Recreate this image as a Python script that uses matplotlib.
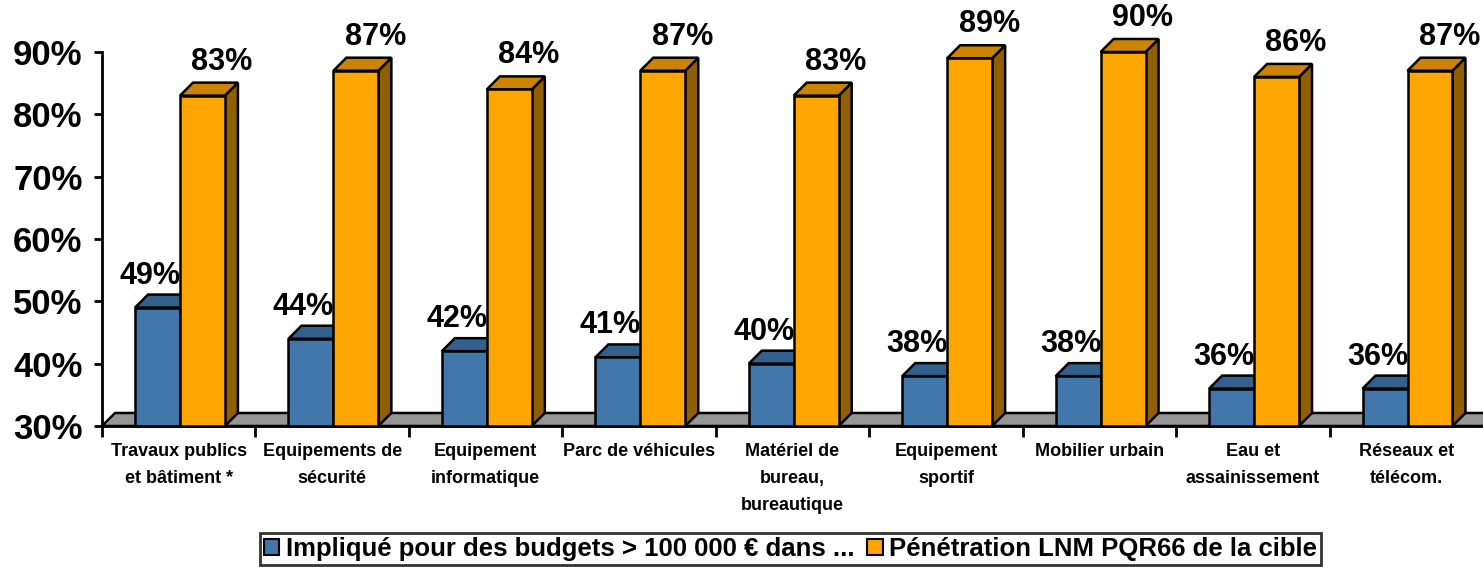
import matplotlib.pyplot as plt
from matplotlib.patches import Polygon, Patch

# -----------------------------------------------------------
# Data
# -----------------------------------------------------------

categories = [
    "Travaux publics\net bâtiment *",
    "Equipements de\nsécurité",
    "Equipement\ninformatique",
    "Parc de véhicules",
    "Matériel de\nbureau,\nbureautique",
    "Equipement\nsportif",
    "Mobilier urbain",
    "Eau et\nassainissement",
    "Réseaux et\ntélécom.",
]

implique = [49, 44, 42, 41, 40, 38, 38, 36, 36]
penetration = [83, 87, 84, 87, 83, 89, 90, 86, 87]

series_names = [
    "Impliqué pour des budgets > 100 000 € dans ...",
    "Pénétration LNM PQR66 de la cible",
]

y_ticks = [30, 40, 50, 60, 70, 80, 90]

# colours: front, top, side
blue = ("#4177aa", "#33618e", "#284d70")
orange = ("#ffa500", "#cc8400", "#8f5f00")
floor_color = "#969696"

plt.rcParams['font.family'] = ['Liberation Sans', 'DejaVu Sans']
plt.rcParams['font.weight'] = 'bold'

# -----------------------------------------------------------
# Figure
# -----------------------------------------------------------

fig = plt.figure(figsize=(14.83, 5.67), dpi=100)
ax = fig.add_axes([0.0688, 0.2487, 0.9312, 0.6596])

n = len(categories)
ymin, ymax = y_ticks[0], y_ticks[-1]
ax.set_xlim(0, n)
ax.set_ylim(ymin, ymax)

# depth of the fake 3D effect, in pixels -> data units
depth_px = 13
ax_w = 14.83 * 100 * 0.9312
ax_h = 5.67 * 100 * 0.6596
dx = depth_px * n / ax_w
dy = depth_px * (ymax - ymin) / ax_h

edge = dict(edgecolor="black", linewidth=1.8, joinstyle="miter")


def add_poly(pts, color, z):
    ax.add_patch(Polygon(pts, closed=True, facecolor=color,
                         clip_on=False, zorder=z, **edge))


# floor
add_poly([(0, ymin), (n, ymin), (n + dx, ymin + dy), (dx, ymin + dy)],
         floor_color, 1)

bar_start = 0.215
bar_w = 0.293


def bar3d(x0, val, cols, z):
    front, top, side = cols
    # side
    add_poly([(x0 + bar_w, ymin), (x0 + bar_w + dx, ymin + dy),
              (x0 + bar_w + dx, val + dy), (x0 + bar_w, val)], side, z)
    # top
    add_poly([(x0, val), (x0 + bar_w, val), (x0 + bar_w + dx, val + dy),
              (x0 + dx, val + dy)], top, z)
    # front
    ax.bar(x0, val - ymin, bottom=ymin, width=bar_w, align="edge",
           color=front, clip_on=False, zorder=z + 0.5, **edge)


for i in range(n):
    xb = i + bar_start
    xo = xb + bar_w
    bar3d(xb, implique[i], blue, 2 + i)
    bar3d(xo, penetration[i], orange, 2.2 + i)

    ax.annotate(f"{implique[i]}%", (i + 0.313, implique[i]),
                xytext=(0, 24), textcoords="offset pixels",
                ha="center", va="baseline", fontsize=22, fontweight="bold")
    ax.annotate(f"{penetration[i]}%", (i + 0.782, penetration[i]),
                xytext=(0, 26), textcoords="offset pixels",
                ha="center", va="baseline", fontsize=22, fontweight="bold")

# -----------------------------------------------------------
# Axes formatting
# -----------------------------------------------------------

ax.spines["top"].set_visible(False)
ax.spines["right"].set_visible(False)
ax.spines["left"].set_linewidth(2)
ax.spines["bottom"].set_linewidth(2)
ax.spines["left"].set_zorder(20)

ax.set_yticks(y_ticks)
ax.set_yticklabels([f"{t}%" for t in y_ticks], fontsize=25, fontweight="bold")
ax.tick_params(axis="y", direction="out", length=6, width=2, pad=8)

ax.set_xticks(range(n))
ax.set_xticklabels([])
ax.set_xticks([i + 0.5 for i in range(n)], minor=True)
ax.set_xticklabels(categories, minor=True, fontsize=13, fontweight="bold")
for t in ax.get_xticklabels(minor=True):
    t.set_linespacing(1.8)
ax.tick_params(axis="x", which="major", direction="out", length=8, width=2)
ax.tick_params(axis="x", which="minor", length=0, pad=12)

handles = [Patch(facecolor=blue[0], edgecolor="black", linewidth=1.5),
           Patch(facecolor=orange[0], edgecolor="black", linewidth=1.5)]
leg = fig.legend(handles, series_names, loc="upper center",
                 bbox_to_anchor=(0.533, 0.060), ncol=2, frameon=True,
                 fancybox=False, fontsize=18.5, handlelength=0.6,
                 handleheight=0.6, handletextpad=0.25, columnspacing=0.5,
                 borderpad=0.15, borderaxespad=0)
leg.get_frame().set_edgecolor("black")
leg.get_frame().set_linewidth(2)
for t in leg.get_texts():
    t.set_fontweight("bold")

fig.savefig("out.png", dpi=100)
